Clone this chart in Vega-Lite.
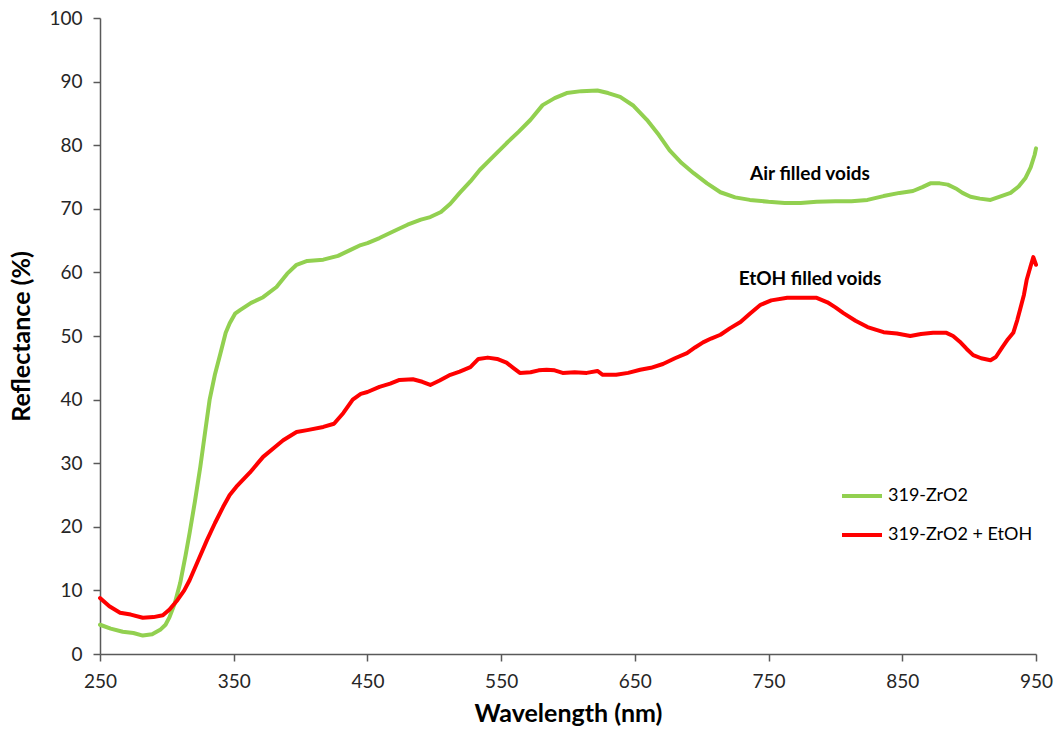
{
  "$schema": "https://vega.github.io/schema/vega-lite/v6.json",
  "autosize": "none",
  "width": 936,
  "height": 636,
  "padding": {"left": 100, "top": 18, "right": 28, "bottom": 81},
  "background": "white",
  "config": {"view": {"stroke": null}, "font": "Lato"},
  "layer": [
    {
      "data": {
        "values": [
          {"s":"319-ZrO2","w":250,"r":4.6},{"s":"319-ZrO2","w":258,"r":4.0},{"s":"319-ZrO2","w":267,"r":3.5},{"s":"319-ZrO2","w":275,"r":3.3},{"s":"319-ZrO2","w":282,"r":2.9},{"s":"319-ZrO2","w":289,"r":3.1},{"s":"319-ZrO2","w":295,"r":3.8},{"s":"319-ZrO2","w":299,"r":4.6},{"s":"319-ZrO2","w":302,"r":5.8},{"s":"319-ZrO2","w":306,"r":8},{"s":"319-ZrO2","w":310,"r":11.2},{"s":"319-ZrO2","w":314,"r":15.5},{"s":"319-ZrO2","w":317,"r":19},{"s":"319-ZrO2","w":321,"r":24},{"s":"319-ZrO2","w":325,"r":29.4},{"s":"319-ZrO2","w":329,"r":35.5},{"s":"319-ZrO2","w":332,"r":40},{"s":"319-ZrO2","w":336,"r":44},{"s":"319-ZrO2","w":340,"r":47.2},{"s":"319-ZrO2","w":344,"r":50.5},{"s":"319-ZrO2","w":347,"r":52},{"s":"319-ZrO2","w":351,"r":53.5},{"s":"319-ZrO2","w":355,"r":54.1},{"s":"319-ZrO2","w":363,"r":55.2},{"s":"319-ZrO2","w":372,"r":56.1},{"s":"319-ZrO2","w":382,"r":57.7},{"s":"319-ZrO2","w":390,"r":59.8},{"s":"319-ZrO2","w":397,"r":61.2},{"s":"319-ZrO2","w":405,"r":61.8},{"s":"319-ZrO2","w":417,"r":62},{"s":"319-ZrO2","w":428,"r":62.6},{"s":"319-ZrO2","w":437,"r":63.5},{"s":"319-ZrO2","w":445,"r":64.3},{"s":"319-ZrO2","w":450,"r":64.6},{"s":"319-ZrO2","w":459,"r":65.4},{"s":"319-ZrO2","w":470,"r":66.5},{"s":"319-ZrO2","w":480,"r":67.5},{"s":"319-ZrO2","w":490,"r":68.3},{"s":"319-ZrO2","w":497,"r":68.7},{"s":"319-ZrO2","w":505,"r":69.5},{"s":"319-ZrO2","w":512,"r":70.8},{"s":"319-ZrO2","w":519,"r":72.5},{"s":"319-ZrO2","w":527,"r":74.3},{"s":"319-ZrO2","w":534,"r":76.1},{"s":"319-ZrO2","w":544,"r":78.2},{"s":"319-ZrO2","w":554,"r":80.3},{"s":"319-ZrO2","w":563,"r":82.1},{"s":"319-ZrO2","w":572,"r":84},{"s":"319-ZrO2","w":581,"r":86.3},{"s":"319-ZrO2","w":590,"r":87.4},{"s":"319-ZrO2","w":599,"r":88.2},{"s":"319-ZrO2","w":610,"r":88.5},{"s":"319-ZrO2","w":622,"r":88.6},{"s":"319-ZrO2","w":630,"r":88.2},{"s":"319-ZrO2","w":639,"r":87.6},{"s":"319-ZrO2","w":649,"r":86.2},{"s":"319-ZrO2","w":659,"r":84},{"s":"319-ZrO2","w":668,"r":81.6},{"s":"319-ZrO2","w":676,"r":79.2},{"s":"319-ZrO2","w":685,"r":77.2},{"s":"319-ZrO2","w":694,"r":75.6},{"s":"319-ZrO2","w":704,"r":74},{"s":"319-ZrO2","w":714,"r":72.6},{"s":"319-ZrO2","w":725,"r":71.8},{"s":"319-ZrO2","w":736,"r":71.4},{"s":"319-ZrO2","w":750,"r":71.1},{"s":"319-ZrO2","w":762,"r":70.9},{"s":"319-ZrO2","w":774,"r":70.9},{"s":"319-ZrO2","w":786,"r":71.1},{"s":"319-ZrO2","w":800,"r":71.2},{"s":"319-ZrO2","w":812,"r":71.2},{"s":"319-ZrO2","w":824,"r":71.4},{"s":"319-ZrO2","w":836,"r":72.0},{"s":"319-ZrO2","w":848,"r":72.5},{"s":"319-ZrO2","w":858,"r":72.8},{"s":"319-ZrO2","w":865,"r":73.4},{"s":"319-ZrO2","w":871,"r":74.0},{"s":"319-ZrO2","w":878,"r":74.0},{"s":"319-ZrO2","w":884,"r":73.8},{"s":"319-ZrO2","w":890,"r":73.2},{"s":"319-ZrO2","w":895,"r":72.5},{"s":"319-ZrO2","w":901,"r":71.9},{"s":"319-ZrO2","w":908,"r":71.6},{"s":"319-ZrO2","w":916,"r":71.4},{"s":"319-ZrO2","w":923,"r":71.9},{"s":"319-ZrO2","w":931,"r":72.5},{"s":"319-ZrO2","w":937,"r":73.5},{"s":"319-ZrO2","w":942,"r":74.8},{"s":"319-ZrO2","w":946,"r":76.5},{"s":"319-ZrO2","w":949,"r":78.5},{"s":"319-ZrO2","w":950,"r":79.5},
          {"s":"319-ZrO2 + EtOH","w":250,"r":8.8},{"s":"319-ZrO2 + EtOH","w":257,"r":7.5},{"s":"319-ZrO2 + EtOH","w":265,"r":6.5},{"s":"319-ZrO2 + EtOH","w":273,"r":6.2},{"s":"319-ZrO2 + EtOH","w":282,"r":5.7},{"s":"319-ZrO2 + EtOH","w":290,"r":5.8},{"s":"319-ZrO2 + EtOH","w":297,"r":6.1},{"s":"319-ZrO2 + EtOH","w":302,"r":7.0},{"s":"319-ZrO2 + EtOH","w":308,"r":8.5},{"s":"319-ZrO2 + EtOH","w":313,"r":10.0},{"s":"319-ZrO2 + EtOH","w":317,"r":11.6},{"s":"319-ZrO2 + EtOH","w":323,"r":14.5},{"s":"319-ZrO2 + EtOH","w":330,"r":17.9},{"s":"319-ZrO2 + EtOH","w":336,"r":20.6},{"s":"319-ZrO2 + EtOH","w":342,"r":23.1},{"s":"319-ZrO2 + EtOH","w":347,"r":25.0},{"s":"319-ZrO2 + EtOH","w":352,"r":26.3},{"s":"319-ZrO2 + EtOH","w":362,"r":28.5},{"s":"319-ZrO2 + EtOH","w":372,"r":31.0},{"s":"319-ZrO2 + EtOH","w":380,"r":32.4},{"s":"319-ZrO2 + EtOH","w":387,"r":33.6},{"s":"319-ZrO2 + EtOH","w":397,"r":34.9},{"s":"319-ZrO2 + EtOH","w":405,"r":35.2},{"s":"319-ZrO2 + EtOH","w":417,"r":35.7},{"s":"319-ZrO2 + EtOH","w":425,"r":36.2},{"s":"319-ZrO2 + EtOH","w":432,"r":37.9},{"s":"319-ZrO2 + EtOH","w":439,"r":40.0},{"s":"319-ZrO2 + EtOH","w":445,"r":40.9},{"s":"319-ZrO2 + EtOH","w":450,"r":41.2},{"s":"319-ZrO2 + EtOH","w":459,"r":42.0},{"s":"319-ZrO2 + EtOH","w":467,"r":42.5},{"s":"319-ZrO2 + EtOH","w":474,"r":43.1},{"s":"319-ZrO2 + EtOH","w":484,"r":43.2},{"s":"319-ZrO2 + EtOH","w":491,"r":42.8},{"s":"319-ZrO2 + EtOH","w":497,"r":42.3},{"s":"319-ZrO2 + EtOH","w":504,"r":43.0},{"s":"319-ZrO2 + EtOH","w":512,"r":43.9},{"s":"319-ZrO2 + EtOH","w":519,"r":44.4},{"s":"319-ZrO2 + EtOH","w":527,"r":45.1},{"s":"319-ZrO2 + EtOH","w":533,"r":46.4},{"s":"319-ZrO2 + EtOH","w":540,"r":46.6},{"s":"319-ZrO2 + EtOH","w":547,"r":46.4},{"s":"319-ZrO2 + EtOH","w":554,"r":45.8},{"s":"319-ZrO2 + EtOH","w":559,"r":45.0},{"s":"319-ZrO2 + EtOH","w":564,"r":44.2},{"s":"319-ZrO2 + EtOH","w":572,"r":44.3},{"s":"319-ZrO2 + EtOH","w":578,"r":44.6},{"s":"319-ZrO2 + EtOH","w":584,"r":44.7},{"s":"319-ZrO2 + EtOH","w":590,"r":44.6},{"s":"319-ZrO2 + EtOH","w":596,"r":44.2},{"s":"319-ZrO2 + EtOH","w":605,"r":44.3},{"s":"319-ZrO2 + EtOH","w":614,"r":44.2},{"s":"319-ZrO2 + EtOH","w":622,"r":44.5},{"s":"319-ZrO2 + EtOH","w":626,"r":43.9},{"s":"319-ZrO2 + EtOH","w":636,"r":43.9},{"s":"319-ZrO2 + EtOH","w":645,"r":44.2},{"s":"319-ZrO2 + EtOH","w":654,"r":44.7},{"s":"319-ZrO2 + EtOH","w":662,"r":45.0},{"s":"319-ZrO2 + EtOH","w":671,"r":45.6},{"s":"319-ZrO2 + EtOH","w":680,"r":46.5},{"s":"319-ZrO2 + EtOH","w":689,"r":47.3},{"s":"319-ZrO2 + EtOH","w":695,"r":48.2},{"s":"319-ZrO2 + EtOH","w":701,"r":49.0},{"s":"319-ZrO2 + EtOH","w":707,"r":49.6},{"s":"319-ZrO2 + EtOH","w":714,"r":50.2},{"s":"319-ZrO2 + EtOH","w":721,"r":51.2},{"s":"319-ZrO2 + EtOH","w":729,"r":52.2},{"s":"319-ZrO2 + EtOH","w":736,"r":53.5},{"s":"319-ZrO2 + EtOH","w":744,"r":54.9},{"s":"319-ZrO2 + EtOH","w":752,"r":55.6},{"s":"319-ZrO2 + EtOH","w":764,"r":56.0},{"s":"319-ZrO2 + EtOH","w":776,"r":56.0},{"s":"319-ZrO2 + EtOH","w":786,"r":56.0},{"s":"319-ZrO2 + EtOH","w":794,"r":55.3},{"s":"319-ZrO2 + EtOH","w":800,"r":54.5},{"s":"319-ZrO2 + EtOH","w":806,"r":53.6},{"s":"319-ZrO2 + EtOH","w":815,"r":52.4},{"s":"319-ZrO2 + EtOH","w":824,"r":51.4},{"s":"319-ZrO2 + EtOH","w":836,"r":50.6},{"s":"319-ZrO2 + EtOH","w":846,"r":50.4},{"s":"319-ZrO2 + EtOH","w":856,"r":50.0},{"s":"319-ZrO2 + EtOH","w":864,"r":50.3},{"s":"319-ZrO2 + EtOH","w":873,"r":50.5},{"s":"319-ZrO2 + EtOH","w":883,"r":50.5},{"s":"319-ZrO2 + EtOH","w":888,"r":50.0},{"s":"319-ZrO2 + EtOH","w":893,"r":49.1},{"s":"319-ZrO2 + EtOH","w":898,"r":48.0},{"s":"319-ZrO2 + EtOH","w":903,"r":47.0},{"s":"319-ZrO2 + EtOH","w":909,"r":46.5},{"s":"319-ZrO2 + EtOH","w":916,"r":46.2},{"s":"319-ZrO2 + EtOH","w":920,"r":46.7},{"s":"319-ZrO2 + EtOH","w":925,"r":48.3},{"s":"319-ZrO2 + EtOH","w":929,"r":49.5},{"s":"319-ZrO2 + EtOH","w":933,"r":50.5},{"s":"319-ZrO2 + EtOH","w":936,"r":52.5},{"s":"319-ZrO2 + EtOH","w":938,"r":54.1},{"s":"319-ZrO2 + EtOH","w":941,"r":56.5},{"s":"319-ZrO2 + EtOH","w":943,"r":58.8},{"s":"319-ZrO2 + EtOH","w":946,"r":61.0},{"s":"319-ZrO2 + EtOH","w":948,"r":62.4},{"s":"319-ZrO2 + EtOH","w":950,"r":61.2}
        ]
      },
      "mark": {"type": "line", "strokeWidth": 4, "strokeJoin": "round", "strokeCap": "round"},
      "encoding": {
        "x": {
          "field": "w", "type": "quantitative",
          "scale": {"domain": [250, 950], "nice": false, "zero": false},
          "axis": {
            "title": "Wavelength (nm)", "values": [250, 350, 450, 550, 650, 750, 850, 950],
            "grid": false, "domainColor": "#595959", "domainWidth": 1.5, "tickColor": "#595959", "tickWidth": 1.5, "tickSize": 7,
            "labelFlush": false, "labelOverlap": false,
            "labelFont": "Lato", "labelFontSize": 19, "labelColor": "#262626", "labelPadding": 11,
            "titleFont": "Lato", "titleFontSize": 25, "titleFontWeight": "bold", "titleColor": "#000000", "titlePadding": 10
          }
        },
        "y": {
          "field": "r", "type": "quantitative",
          "scale": {"domain": [0, 100], "nice": false},
          "axis": {
            "title": "Reflectance (%)", "values": [0, 10, 20, 30, 40, 50, 60, 70, 80, 90, 100],
            "grid": false, "domainColor": "#595959", "domainWidth": 1.5, "tickColor": "#595959", "tickWidth": 1.5, "tickSize": 7,
            "labelFlush": false, "labelOverlap": false,
            "labelFont": "Lato", "labelFontSize": 19, "labelColor": "#262626", "labelPadding": 11,
            "titleFont": "Lato", "titleFontSize": 25, "titleFontWeight": "bold", "titleColor": "#000000", "titlePadding": 14
          }
        },
        "color": {
          "field": "s", "type": "nominal",
          "scale": {"domain": ["319-ZrO2", "319-ZrO2 + EtOH"], "range": ["#92D050", "#FF0000"]},
          "legend": {
            "title": null, "orient": "none", "legendX": 740, "legendY": 456,
            "symbolType": "stroke", "symbolSize": 1600, "symbolStrokeWidth": 4,
            "labelFont": "Lato", "labelFontSize": 18, "labelColor": "#000000", "labelOffset": 4, "rowPadding": 8
          }
        }
      }
    },
    {
      "data": {
        "values": [
          {"t": "Air filled voids", "w": 781, "r": 75.5},
          {"t": "EtOH filled voids", "w": 781, "r": 59}
        ]
      },
      "mark": {"type": "text", "font": "Lato", "fontSize": 19, "fontWeight": "bold", "color": "#000000", "align": "center", "baseline": "middle"},
      "encoding": {
        "x": {"field": "w", "type": "quantitative"},
        "y": {"field": "r", "type": "quantitative"},
        "text": {"field": "t"}
      }
    }
  ]
}
